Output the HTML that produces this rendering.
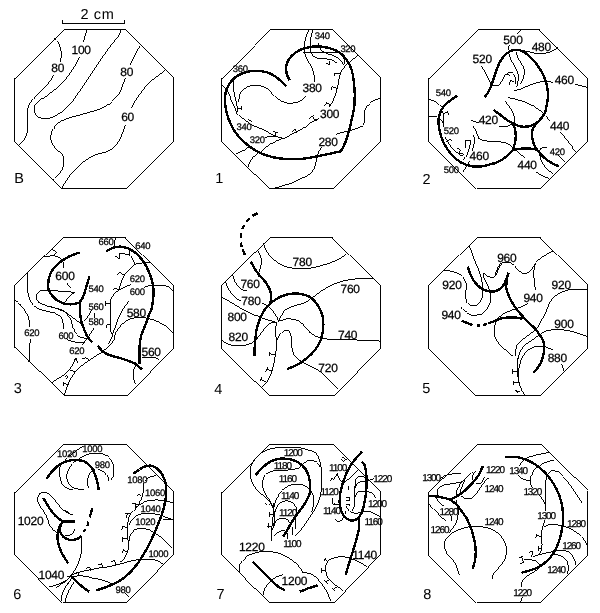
<!DOCTYPE html>
<html>
<head>
<meta charset="utf-8">
<title>Contour maps</title>
<style>
html,body{margin:0;padding:0;background:#fff;}
body{width:600px;height:613px;overflow:hidden;font-family:"Liberation Sans",sans-serif;}
svg{will-change:transform;display:block;position:absolute;left:0;top:0;}
.o{shape-rendering:crispEdges;fill:none;stroke:#000;stroke-width:0.99;}
.c{shape-rendering:crispEdges;fill:none;stroke:#000;stroke-width:0.99;}
.k{shape-rendering:crispEdges;fill:none;stroke:#000;stroke-width:2.4;stroke-linecap:butt;stroke-linejoin:bevel;}
text{font-family:"Liberation Sans",sans-serif;fill:#000;stroke:#000;stroke-width:0.25px;text-rendering:geometricPrecision;}
.L{font-size:14.5px;stroke-width:0;}
.m{font-size:12px;letter-spacing:-0.25px;}
.s{font-size:9.5px;letter-spacing:-0.3px;}
.t{font-size:10px;letter-spacing:-1.1px;}
</style>
</head>
<body>
<svg width="600" height="613" viewBox="0 0 600 613">
<rect x="0" y="0" width="600" height="613" fill="#fff"/>

<!-- ===== Panel B ===== -->
<g id="pB">
<path class="o" d="M62.5 20V23.5H124.5V20"/>
<text class="L" x="80.5" y="18.6" style="letter-spacing:0.6px">2 cm</text>
<polygon class="o" points="63.5,29.5 124.5,29.5 173.5,78 173.5,140.5 125.5,188.5 62,188.5 14.5,140.5 14.5,78"/>
<path class="c" d="M54.2 38.7C57.5 41 59.5 44 60 46.7C61 50 61.5 53 61.3 55C61.2 58 60.8 60 60.3 62"/>
<path class="c" d="M53.7 74.7C52.5 78 50.5 81 48.3 83.3C46 86 43.5 88.5 40.8 90.8C38 93.5 36 95.5 34.2 97.5C32.5 99.5 30 102.5 28.3 106.7C27.3 109 27.2 111 27.2 113.3V130C27.2 132.5 26.8 134.5 25.8 136.7C24.5 139.5 22.5 142 19.7 144.7"/>
<path class="c" d="M86.7 29.7C86.3 32 85.7 34 85 35.8C84.5 38 84 40 83.3 41.7"/>
<path class="c" d="M79.7 56.7C78 61 76 64.5 73.3 68.3C70.5 73 67 77.5 63.3 81.7C60 85.5 57 88.5 53.3 90.8C49.5 93.5 46 96 42.5 98.3C39.5 100.3 37 102 35.8 104.2C34.5 106 34 107.5 34.2 109.2C34.2 111.5 34.8 113.5 35.8 115C37 116.8 38.8 117.8 40.8 118C43.5 118.6 46 118.7 48.3 118.3C51.5 117.8 54 116.6 56.7 115C60 113.3 62.5 111.5 65 109.2C68 106.5 70.5 103.5 73.3 100.3C78 93.5 82.5 87 87 80.3C91.5 73.5 96 67 100.3 60.2C103.5 55.5 107 51 110 46.7C112.5 43.5 114.5 41 116.7 38.3C118 36.5 119.3 35 120 33.3C120.5 32 120.7 31 120.8 29.7"/>
<path class="c" d="M140 45.8C138 49 136.5 52 135 55C133.5 58.5 131.5 62 130 65"/>
<path class="c" d="M125 77.5C124 81 123 84.5 121.7 88.3C120.5 91.5 119 94 116.7 96.7C115 98.5 113 100 110.5 102.5C108 104.8 105 106.5 100 109.2C91 112 82 114.3 73.3 116.7C69 118 65 119.3 61.7 120.8C58.5 122.5 56 124.8 54.2 127.5C52.3 130 51 133 50.8 135.8C50.5 139 51.2 141.8 52.5 144.2C55 148.5 59.5 151.5 62.5 155C64 158 64.3 161 63.8 164.2C63.3 167 62.3 169.5 60.8 171.7C59 174.5 57 176.8 54.7 178.7L53.4 180"/>
<path class="c" d="M164.7 70.8C162 72.5 159.5 74.5 156.7 76.7C153.5 78.8 151 81 148.3 83.3C145.8 86 143.8 88.8 141.7 91.7C139.5 94.5 137.5 97 135.8 100C134 102.5 132.7 105 131.7 107.5"/>
<path class="c" d="M125.3 124.7C124.3 128.5 123.2 131.8 121.7 135C120.5 138.5 119 141.5 116.7 144.2C115 146.8 112.8 148.5 110 150C107 151.8 104 152.8 100 153.5C96.5 154.3 93 155.5 90 157.5C87 159 84.3 161 81.7 163.3C78 166.5 74.8 170 71.7 173.3C69.8 175.5 68.2 177.7 66.7 180C65 182.5 63.5 185.3 62 188"/>
<text class="m" x="71.5" y="53.7">100</text>
<text class="m" x="51.3" y="71.7">80</text>
<text class="m" x="120.3" y="75.9">80</text>
<text class="m" x="121.2" y="120.9">60</text>
<text class="L" x="14.3" y="183.3">B</text>
</g>

<!-- ===== Panel 1 ===== -->
<g id="p1">
<polygon class="o" points="270.5,29.5 331.5,29.5 380.5,78 380.5,140.5 333,188.5 269.5,188.5 221.5,140.5 221.5,78"/>
<!-- 380 contour -->
<path class="c" d="M308.5 29.5C307.5 32 306.8 34.5 306.2 36.7C305.2 40 304.5 42.5 304.4 44.8C304.1 47.5 304.1 49.5 304.4 51.8C304.8 54.5 305.8 56.8 306.8 58.8C308 61.5 309.5 63.5 310.8 65.8C312.2 68.5 313.2 70.5 313.8 72.8C314.3 76 314.4 79 314.3 81.6"/>
<path class="c" d="M306.7 95.8C305.3 97.5 303.7 98.8 301.7 100C299 101.8 296.5 102.7 293.3 103C290.5 103.5 287.5 103.3 285 102.5C282.5 101.8 280.3 100.7 278.3 99.2C275.8 97.2 273.8 95 271.7 92.5C269.5 90.3 267.3 88.5 265 87.5C262.3 86 259.5 85.3 256.7 85.2C253.5 85 250.8 85.6 248.3 86.5C245.8 87.6 243.8 89 242.2 90.8C240.5 92.8 239.5 95 239 97.5C238.6 99 238.6 100.3 238.7 101.5"/>
<!-- line b -->
<path class="c" d="M312.6 29.5C311.8 32 311.4 34.5 311.1 36.7C310.6 40 310.3 42.5 310.3 44.8C310.2 47.2 310.3 49.2 310.6 51.3C311.2 53.3 312 54.8 313.2 55.9C314.5 57.2 315.8 57.9 317.3 58.3C319.5 58.7 321.5 58.8 323.7 58.8C325.8 58.9 327.8 59.1 329.5 59.4C331.3 59.9 332.8 60.4 334.2 61.2C335.3 61.9 336.3 62.7 337.1 63.5"/>
<!-- line c from 340 -->
<path class="c" d="M318.4 42.5C318.7 44.2 319.1 45.8 319.6 47.2C320 48.5 320.5 49.7 321.3 50.7C323.2 51.8 325.2 52.8 327.2 53.6C329.5 54.4 332 55 334.2 55.9C336 56.8 337.5 57.7 338.8 58.8C340.2 59.9 341.3 61 342.3 62.3C342.9 63.3 343.3 64.3 343.5 65.3"/>
<!-- line d horizontal under arc -->
<path class="c" d="M302.7 52.5H336.5C338 52.8 339.2 53.4 340.3 54.2C342 55.5 343 57 343.8 58.8C344.5 60.3 344.8 61.8 344.9 63.5"/>
<!-- 320 hachured line -->
<path class="c" d="M357.5 55.8C355 57.5 352.5 59.5 350 61.7C347.5 63.8 345.2 66 343.3 68.3C341.8 70.3 340.7 72.5 340 75C339.2 77.8 338.8 80.5 338.3 83.3C337.6 86.8 336.8 90 335.8 93.3C334.9 96.3 333.8 99 332.5 101.7C331.5 103.5 330.4 105.2 329.2 106.7"/>
<!-- ticks -->
<path class="c" d="M325.8 63.3L330 64.7M329.7 60.8L329.2 64.7"/>
<path class="c" d="M334.2 76L335 73L340.8 73.7"/>
<path class="c" d="M331.3 89.8L332 86.8L334.8 87.2L336.5 89"/>
<path class="c" d="M324.2 105.6L326.3 102.5L328.5 103.8L330.2 105.8"/>
<path class="c" d="M309.2 118.4L313.8 115.4M312.7 116.8L315.2 120.2M314.5 120.6L319 118.2"/>
<path class="c" d="M291.5 131L295.3 128.8L296.8 132.5"/>
<path class="c" d="M272.8 131.5L277.7 132.8M275.8 132.2L275 135.8"/>
<path class="c" d="M248 119.3L252.2 121.7"/>
<path class="c" d="M236.8 108.8H241.5M241.5 105.6V109.6"/>
<!-- 300 contour -->
<path class="c" d="M318.7 118.5C316.5 119.5 314.3 120.5 312.4 121.6C309.5 123.3 307 125.3 304.5 127.2C301.5 129.3 298.5 131 295 132.7C291 134.8 286.5 136.7 282.5 138.5C278.5 140 274.3 141.7 270.5 143.8C267.8 145.5 265.3 147.8 263 149.8C261.5 150.8 260 151.8 258.5 152.8C257.2 153.8 256 154.7 254.8 155.8C253 157.3 251.3 159 250.3 161C249.3 163 248.5 165 248 167"/>
<!-- 340 contour -->
<path class="c" d="M221.8 84.4C223.5 86 225.2 87.6 226.8 89.4C228.3 92 229.5 94.8 230.5 97.5C231.8 100.5 233 103.3 234.3 106.3C235 108.5 235.8 110.5 236.8 112.5C238.3 114.5 240 116 241.8 117.5C243.7 119 245.5 120.5 247.4 121.9C249 123 250.5 124 251.8 125C255.5 126.5 259.3 128 263 129.5C265.5 130.8 267.7 132 269.8 133.3C272 134.5 274.3 135.7 276.5 136.7C278.5 137.5 280.5 138 282.5 138.5"/>
<!-- 360 line -->
<path class="c" d="M233.6 80.6C233.3 82.5 233.2 84.5 233.3 86.3C233.5 89 233.8 91.3 234.3 93.8C234.8 96.5 235.5 98.8 236.1 101.3C236.6 103.5 237 105.8 237.4 108.1C237.5 109.6 237.3 111 236.8 112.5"/>
<!-- 320 short -->
<path class="c" d="M264.5 137.8C266.3 137 268 136.5 269.8 136.3C272 136.2 274.2 136.4 276.5 136.7"/>
<path class="c" d="M236 153.8C238.5 152.8 241 151.8 243.5 150.5C245.5 149.5 247.3 148.2 248.8 146.8"/>
<!-- 280 contour -->
<path class="c" d="M380.5 98.6C378 98.7 375.5 99.3 373.3 100.8C371 102 369 103.3 367.5 105C365.8 107.5 364.8 110 364.4 113.3C364.3 116 364.6 118.5 364.7 120.8C364.3 123.3 363.3 125.2 361.5 126.4C359 127.8 356.3 128.8 353.6 129.5C350.5 130.3 347.3 131 344.1 131.9C341.3 132.6 338.7 133.4 336.2 134.3"/>
<path class="c" d="M321.1 146.5C320 149 318.8 151.5 318 154.1C317 157.3 316.4 160.5 315.6 163.6C314.8 167 313.8 170 311.6 172.3C309.3 174.8 306.2 176.4 302.9 177.8C300.3 179 297.6 180.3 295 181.8C291.5 183.3 288.5 184.3 285.5 184.5C281.5 185.8 277.5 187 273.5 188.3"/>
<!-- thick heart -->
<path class="k" d="M289.6 80.2C288.3 78 287.3 75.8 286.8 73.8C286.2 71.5 286 69.5 286.1 67.5C286.3 65.5 286.8 63.5 287.7 61.5C288.7 59.5 290 57.6 291.7 55.8C294 53.5 296.8 51.5 300 50C302.7 48.7 305.5 47.9 308.3 47.4C311 46.7 313.8 46.4 316.7 46.4C320.2 46.4 323.5 46.8 326.7 47.5C330.2 48.2 333.5 49.3 336.7 50.8C339.3 52.2 341.5 53.8 343.3 55.8C345.3 57.8 347 60 348.3 62.5C349.8 64.8 350.8 67.3 351.7 70C352.8 73.8 353.5 77.6 353.8 81.7C354.3 85.5 354.6 89.3 354.7 93.3C354.8 98 354.7 102.3 354.3 106.7C353.9 110 353.4 112.5 352.8 114.5C351.8 119.5 350.7 124 349.6 128.7C348.5 133.2 347.2 137.3 345.7 141.4C344.3 145 342.7 148.3 340.9 151.2C336.2 152.3 331.5 153.4 326.7 154.4C321.5 155.5 316.2 156.6 310.8 157.6C306.5 158.4 302 158.9 297.5 159.2C293.5 159.4 289.5 159.3 285.5 159C281.5 158.7 277.5 158.2 273.5 157.3C269.3 156.4 265.3 155.2 261.5 153.5C257.8 151.8 254.3 149.8 251 147.5C247.8 145.3 244.8 142.8 242 140C239.2 137.3 236.7 134.3 234.5 131C232.2 127.3 230.3 123.3 228.6 119C227.3 115.5 226.3 112 225.8 108.5C225.2 105.5 224.9 102.5 224.9 99.5C224.9 96.8 225.2 94.5 225.8 92C226.5 89.5 227.4 87.3 228.6 85.2C229.8 83 231.3 81 233 79.3C234.8 77.5 236.9 76 239.3 74.8C241.6 73.5 244.1 72.6 246.8 71.9C249.6 71.2 252.5 70.9 255.5 70.9C259 70.9 262.3 71.2 265.5 71.9C268.2 72.6 270.7 73.6 273 75C275.6 76.6 278.1 78.5 280.5 80.6C282.5 82.4 284.3 84.3 286.1 86.3"/>
<text class="m" x="302.5" y="91.9">380</text>
<text class="m" x="320" y="117.8">300</text>
<text class="m" x="318.4" y="145.5">280</text>
<text class="s" x="314.7" y="38.5">340</text>
<text class="s" x="340.4" y="51.9">320</text>
<text class="s" x="232.8" y="72">360</text>
<text class="s" x="236.6" y="129.5">340</text>
<text class="s" x="249.8" y="143.4">320</text>
<text class="L" x="215.3" y="183.4">1</text>
</g>

<!-- ===== Panel 2 ===== -->
<g id="p2">
<polygon class="o" points="477.5,29.5 539.5,29.5 587.5,78 587.5,140.5 540,188.5 476.5,188.5 428.5,140.5 428.5,78"/>
<!-- top edge to 500 -->
<path class="c" d="M520 29.5C519 31.3 518 32.8 516.7 34.2"/>
<path class="c" d="M509.2 45C509 46.8 508.6 48.5 508.3 50"/>
<!-- 480 -->
<path class="c" d="M520 50C523 50.5 525.5 51 528.3 51.7C531.5 52.6 535 53.4 538.3 53.7C541.8 53.8 545 53.4 548.3 52.5C550.5 51.8 552.5 51 554.2 50C555.7 49.1 557 48.1 558 47"/>
<!-- 460 -->
<path class="c" d="M587.5 87.5C585.5 86.8 583.5 86.3 581.7 85.8C579.3 85.2 577 84.6 575 84.2"/>
<path class="c" d="M552.5 82.3C550 81.8 547.8 81.6 545.3 81.6C543.8 81.6 542.3 81.6 540.7 81.8C538.3 82.2 536 82.8 533.7 83.6C531.3 84.5 529 85.5 526.7 86.5C524.3 87.5 522 88.5 519.7 89.4C517.8 90 515.8 90.4 513.8 90.6"/>
<!-- inside lines -->
<path class="c" d="M508.5 51C508.7 52.5 508.9 53.8 509.2 55C509.8 57 510.6 59 511.5 60.8C512.6 62.8 513.8 64.8 515 66.7C516 68.6 517 70.5 517.9 72.5C518.4 74.4 518.6 76.3 518.5 78.3C518.2 81 517.6 83.8 516.8 86.5"/>
<path class="c" d="M516.7 51.7C516.6 52.8 516.7 54 516.8 55C517.6 57 518.6 59 519.7 60.8C520.9 62.8 522.2 64.8 523.2 66.7C524 68.6 524.4 70.5 524.3 72.5C524.2 74.5 523.9 76.4 523.2 78.3C522.4 80.3 521.4 82.3 520.3 84.2"/>
<path class="c" d="M481.8 65.5C483.2 68.5 484.8 71.7 486.4 74.8C488 78 489.5 81 491.1 84.2"/>
<path class="c" d="M492.3 85.9C494 86 495.8 85.8 497.5 85.3C499.1 84.5 500.5 83.3 501.6 81.8C502.8 80 503.6 78 504.5 76C505.4 74.8 506.6 73.8 508 73.1C509.2 72.6 510.4 72.4 511.5 72.5C512.8 73.2 513.7 74.2 514.4 75.4C515.1 76.7 515.5 78 515.6 79.5C515.6 81 515.4 82.6 515 84.2"/>
<path class="c" d="M509.8 80.1L514.4 82.4M510.1 80.1L509.8 85.3"/>
<path class="c" d="M506.5 74.6L509.5 75.5"/>
<!-- lower right lines -->
<path class="c" d="M508 97.6C510.3 98.3 512.7 98.8 515 99.3C518.2 100 521.3 100.8 524.3 101.7C527.2 102.8 530 104.2 532.5 105.8C535 107.2 537.3 108.7 539.5 110.4C541.5 112 543.5 113.8 545.3 115.7C547 117.7 548.8 119.5 550.7 121.4"/>
<path class="c" d="M505.1 101.1C506.5 102.8 507.9 104.5 509.2 106.3C510.5 108.2 511.7 110.2 512.7 112.2C513.5 114 514.1 116 514.4 118C514.6 120.5 514.8 122.5 514.8 124.5"/>
<path class="c" d="M560.2 131.7C562.3 134.3 564.4 137 566.5 139.6C568.6 142.2 570.7 144.9 572.8 147.5C573.9 148.9 575 150.2 576 151.5"/>
<!-- 420 contour -->
<path class="c" d="M470.8 120.2C473.5 121.2 476.3 122 479 122.8"/>
<path class="c" d="M498.5 126.8C501 126.9 503.5 126.8 506 126.5C508 126 510 125.2 512 124.3"/>
<path class="c" d="M473 125.8C474.3 128 475.6 130.2 476.8 132.5C477.5 134.5 478.1 136.6 479 138.5C480.8 139.6 482.8 140.3 485 140.8C488.5 141.2 492 141.4 495.5 141.5C499 141.8 502.5 142.2 506 143C508.2 144 510.2 145.3 512 146.8C512.8 147.7 513.3 148.5 513.5 149.1"/>
<!-- left edge lines -->
<path class="c" d="M428.5 99.5C430.5 99.8 432.3 100.3 434 101C436 102 437.8 103.3 439.3 104.8C440.4 105.8 441.4 106.8 442.3 107.8"/>
<path class="c" d="M428.5 116.8H435.5C436.6 117.3 437.6 118 438.5 119"/>
<!-- hachured inner line -->
<path class="c" d="M441.5 108.5C442.2 110 442.7 111.5 443 113C443.6 115 444 117 444 119C443.6 120 443.2 121 443 122C443.2 123.5 443.4 125 443.5 126.5M440 119L443 122.5"/>
<path class="c" d="M445.5 136.5C446.2 139.2 448.8 143.7 450.5 146C452.3 148.6 454.3 150.8 456.5 152.8C458.3 154.2 460.3 155.2 462.5 155.8"/>
<path class="c" d="M444 113.5L447.5 111.5L449.5 114.5"/>
<path class="c" d="M446 142L450.5 139L451.5 141"/>
<path class="c" d="M456.5 148.3L460.3 149.8L459.5 153.5L464 154.3"/>
<path class="c" d="M470.8 140.8H464.8M465.5 140.8V147.5"/>
<path class="c" d="M470.8 140.8C470.5 143 470 145.3 469.3 147.5C468.7 149.5 467.9 151.5 467 153.5C466 155.8 464.8 158 463.3 160.3"/>
<path class="c" d="M473.8 134.8C474.1 137.5 474.3 140.3 474.2 143C473.8 145.5 473.2 148 472.3 150.5"/>
<path class="c" d="M469.3 161C468.4 163 467.4 165 466.3 167C465.4 168.5 464.4 170 463.3 171.5"/>
<!-- 440 upper -->
<!-- 420 small label lines -->
<path class="c" d="M546.7 147.5C544.6 147.5 542.5 147.8 540.4 148.3C539.8 150.2 539.5 152 539.6 153.8C539.9 156 540.4 158.2 541.2 160.2C542.5 163 544 165.7 545.9 168.1C548 170.3 550.4 172.1 553 173.6"/>
<path class="c" d="M557.8 154.6C560.2 157 562.5 159.3 564.9 161.7"/>
<!-- lower 440 -->
<path class="c" d="M515.8 149.9C518.7 152.5 521.6 155.2 524.5 157.8"/>
<path class="c" d="M536.4 172C538.5 173.5 540.6 174.8 542.8 176C544.9 177 547 177.8 549.1 178.4"/>
<!-- thick lines -->
<path class="k" d="M484.7 97C486.2 95.2 487.6 93.3 488.8 91.2C489.9 89 490.9 86.6 491.7 84.2C492.9 80.7 494.1 77.2 495.2 73.7C496.5 70.2 497.8 66.6 499.3 63.2C500.5 60.8 501.8 58.7 503.3 56.8C505.3 54.5 507.8 52.5 510.5 51C512.3 50.4 514 50.1 515.8 50C517.2 50 518.6 50.1 520 50.3C523 51.3 525.8 52.9 528.3 55C531.3 57.8 534.1 60.9 536.7 64.2C539.2 67.6 541.4 71.2 543.3 75C544.8 78.2 545.9 81.5 546.7 85C547.5 88.3 547.9 91.6 548 95C548 98.4 547.6 101.8 546.7 105C546.3 107.4 545.8 109.7 545.2 112C544.3 114.1 543.1 116 541.7 117.8C540 120.1 538 122.1 535.8 123.7C534 124.8 532 125.5 530 126C527.9 126.6 525.8 126.8 523.6 126.8C521.4 126.6 519.3 126.1 517.2 125.4C515.6 124.8 514 124 512.5 123.1C510 122 507.7 120.6 505.5 119C503.5 117.5 501.6 116 499.7 114.3C497.5 112.8 495.4 111.3 493.4 109.8"/>
<path class="k" d="M512.5 123.1C513.5 124.8 514.3 126.5 514.8 128.3C515.5 131 515.8 133.8 515.8 136.5C515.7 138.9 515.4 141.2 514.8 143.5C514.3 145.9 513.5 148.3 512.5 150.5C510.8 152.6 508.8 154.5 506.7 156.3C504.9 157.9 502.9 159.2 500.8 160.4C498.9 161.6 497 162.5 495 163.3C494.2 163.4 493.3 163.5 492.5 163.5C489 164.8 485.5 165.8 482 166.3C478.5 166.7 475 166.7 471.5 166.3C467.8 165.5 464.3 164.2 461 162.5C457.7 160.5 454.7 158 452 155C449 151.8 446.5 148.3 444.5 144.5C442.5 140.7 441 136.7 440 132.5C439.1 129 438.6 125.5 438.5 122C438.5 118.8 439 115.8 440 113C440.9 110.5 442.2 108.3 443.8 106.3C445.7 104 448 102 450.5 100.3C452.6 98.5 454.9 97 457.3 95.8"/>
<path class="k" d="M512.5 150.5C514.4 149.9 516.3 149.4 518.3 149.1C520.8 148.7 523.4 148.4 525.9 148.4C528 148.4 530.2 148.5 532.3 148.8C533.9 149.1 535.5 149.4 537 149.9C536.3 149 535.8 148 535.3 147C534.3 145.1 533.5 143.2 532.9 141.2C532.4 138.9 532.1 136.6 532.1 134.2C532.1 132.2 532.4 130.2 532.9 128.3C533.7 126.8 534.7 125.5 535.8 124.3"/>
<path class="k" d="M537 149.9C538.5 151.7 540 153.5 541.7 155.2C543.5 157.1 545.4 158.8 547.5 160.4C549.4 161.7 551.3 162.8 553.3 163.9C555.2 164.8 557.2 165.6 559.2 166.3"/>
<text class="m" x="503.3" y="43.7">500</text>
<text class="m" x="531.7" y="50.8">480</text>
<text class="m" x="554.7" y="84">460</text>
<text class="m" x="472.6" y="62.6">520</text>
<text class="m" x="478.7" y="124.4">420</text>
<text class="m" x="469.6" y="159.6">460</text>
<text class="m" x="550" y="130.2">440</text>
<text class="m" x="517.5" y="169">440</text>
<text class="s" x="435.8" y="96.4">540</text>
<text class="s" x="443.8" y="134">520</text>
<text class="s" x="443.7" y="172.8">500</text>
<text class="s" x="549.8" y="154.7">420</text>
<text class="L" x="422.4" y="183.5">2</text>
</g>

<!-- ===== Panel 3 ===== -->
<g id="p3">
<polygon class="o" points="62.5,237.5 125.5,237.5 173.5,285.5 173.5,347.5 126.5,395.5 63.5,395.5 14.5,347.5 14.5,285.5"/>
<!-- top-left tick + line to 600 -->
<path class="c" d="M43.8 256.7C47 256.2 50.3 255.8 53.5 255.8C56 256.2 58.3 256.8 60.3 257.8C61.8 259 62.8 260.5 63.3 262.3C63.6 264 63.7 265.8 63.7 267.5"/>
<path class="c" d="M51.7 248.8L56.5 252.2L53.5 255.8"/>
<path class="c" d="M67 282.5C67.3 284 67.8 285.3 68.5 286.3C69.2 287.1 70 287.6 70.8 287.8"/>
<!-- tongue -->
<path class="c" d="M64.8 302C66.5 300 68.2 298 70 296C71.5 294.7 73 293.5 74.5 292.3C70.5 292 66.5 291.8 62.5 291.5C58 291 53.5 290.5 49 290C46 290 43.3 290.2 40.8 290.8C39.2 291.5 38 292.5 37 293.8C36.3 295.3 36.1 296.8 36.3 298.3C36.8 300 37.8 301.5 39.3 302.8C41.3 304 43.6 305 46 305.8C49 306.7 52 307.3 55 308C57.5 308.8 60 309.8 62.5 311C65 312.3 67.5 313.8 70 315.5C72 317 74 318.5 76 320C78 321.3 79.5 322.5 81.2 324"/>
<!-- outer line -->
<path class="c" d="M27.7 272.8C27.3 276 27.2 279.3 27.3 282.5C27.4 286 27.6 289.5 28 293C28.6 296.3 29.6 299.3 31 302C32.6 304.5 34.6 306.5 37 308C39.8 309.5 42.8 310.4 46 311C49 311.7 52 312.4 55 313.3C57.2 314.2 59.2 315.4 61 317C62 318.3 62.5 319.5 62.7 320.5C63.3 323.3 63.7 326.2 63.9 329"/>
<path class="c" d="M65.8 338.3C67.6 339.8 69.7 340.8 72 341.4C74 342 76.1 342.4 78.2 342.5C80 342.5 81.8 342.4 83.6 342.2"/>
<!-- line 3 -->
<path class="c" d="M46 305.8C50.5 306.7 56 308.3 61.1 309.6C63.5 310.6 65.5 311.9 67.3 313.5C69 315.5 70.3 317.8 71.2 320.5C72 323 72.7 325.6 73.5 328.2C74.3 330.5 75.3 332.6 76.6 334.4C77.9 335.8 79.4 336.8 81.2 337.5C83.2 338 85.3 338.3 87.4 338.3"/>
<!-- leftmost line -->
<path class="c" d="M14.5 300.5C16.7 301.8 18.7 303.3 20.5 305C22.4 306.8 24 309 25.5 311.5C26.8 313.3 27.8 315.3 28.6 317.4C29.3 320.5 29.7 323.6 29.8 326.7"/>
<path class="c" d="M30.1 338.5C30.1 342.8 29.8 347.2 29.4 351.5C29.2 355 29 358.5 28.9 362"/>
<!-- 660 / top short -->
<path class="c" d="M115.9 237.4C115.2 239 114.6 240.5 114.3 241.9C114.2 243.7 114.2 245.5 114.3 247.4"/>
<!-- 640 & hachured -->
<path class="c" d="M149.9 262.5H146C144 262.6 142.2 262.8 140.4 263.2C138.8 263.5 137.2 263.8 135.7 264C134.7 262.2 133.6 260.3 132.5 258.5C131.5 257 130.4 255.7 129.3 254.5C129.1 253 129 251.4 129 249.8"/>
<path class="c" d="M129.3 254.3C126 254 122.5 253.8 119 253.7V258.5L115.2 256.2"/>
<path class="c" d="M135.7 264C132.8 266 130.2 268.3 127.7 270.8C126.3 272.4 125 274.1 123.8 275.9C122.6 278.5 121.5 281.1 120.6 283.8C120 285.8 119.4 287.8 119 289.8"/>
<path class="c" d="M117.5 275.1L119.8 272L123.8 275.1"/>
<path class="c" d="M112.7 290.2L115.1 287.8L119 290.2"/>
<!-- 620 line -->
<path class="c" d="M130.9 284.6C126.8 286.2 122.8 287.9 119 289.8C117 291.3 115.2 293 113.5 294.9C112.2 296.4 111.3 298 110.6 299.7V324C110.7 327.2 110.9 330.4 111.1 333.5"/>
<path class="c" d="M105.5 301.3V305.7M105.5 303.5H110.6"/>
<path class="c" d="M110.6 324.5H106.5V328"/>
<!-- 600 right -->
<path class="c" d="M173.3 291C172 289.5 170.5 288.2 168.9 287C166.4 286 163.8 285.5 161 285.4H153.1C151 285.5 148.8 285.8 146.7 286.2C145.8 286.6 145 287.1 144.4 287.8"/>
<path class="c" d="M128.5 300.5C126.5 303.3 124.7 306.2 123 309.2C121.2 312.3 119.6 315.5 118.2 318.7C117 321.8 116 324.8 115.1 328C114.2 330 113.4 331.8 112.7 333.5C112.2 335.3 111.7 337.2 111.1 339C110.2 340.8 109.2 342.3 108 343.8"/>
<!-- 580 arc -->
<path class="c" d="M101 352.7C103.8 350.6 106.5 348.4 109 346C111 343.9 112.8 341.7 114.3 339.3C114.6 337.4 114.9 335.5 115.1 333.5C117.1 330.5 119.2 327.6 121.4 324.8C123.7 322.5 126.3 320.7 129.3 319.3C132.3 318.2 135.5 317.5 138.8 317.3C142 317.3 145.2 317.7 148.3 318.5C151.6 319.3 154.8 320.3 157.8 321.6C161.2 323.2 164.4 325 167.3 327.2C169.4 328.8 171.3 330.7 172.9 332.7"/>
<!-- 560 -->
<path class="c" d="M142 358C145.2 357.4 148.3 357.1 151.5 357.2C154.3 357.6 157 358.4 159.4 359.6"/>
<path class="c" d="M135.7 365.2C134.5 367.2 133.7 369.3 133.3 371.5C133 373.6 133 375.7 133.3 377.8C133.8 380 134.6 382.2 135.7 384.2"/>
<!-- lines from 540/560/580 small -->
<path class="c" d="M91.3 310.4C90 312.8 88.7 315.1 87.4 317.4C86.4 318.8 85.4 320.1 84.3 321.3"/>
<path class="c" d="M94.5 313.3V317.6"/>
<path class="c" d="M93.6 327.5C92.4 329.8 91.1 332.1 89.8 334.4C88.5 336.3 87.2 338.1 85.9 339.9C84.9 341.5 83.8 343 82.8 344.5"/>
<!-- bottom hachured lines -->
<path class="c" d="M51.8 382.5C54 381.3 56 380 58 378.6C60.2 377.4 62.3 376.2 64.2 374.7C66.2 373 68 371.2 69.6 369.3C71 367.3 72.4 365.3 73.5 363.1C74.4 361.3 75.2 359.5 75.8 357.7"/>
<path class="c" d="M74 360.2L75.8 357.7L78 363.2"/>
<path class="c" d="M64.5 395C65.2 392.4 66 389.8 67 387.3C68 384.6 69.1 381.9 70.3 379.3C71.9 376.5 73.7 373.8 75.7 371.3C78.2 368.7 80.8 366.2 83.7 364C86.3 362.1 89 360.4 91.7 358.7C94.8 356.7 97.9 354.7 101 352.7"/>
<path class="c" d="M82 359.2L85.9 357.7L89 360"/>
<path class="c" d="M70.4 370.1L75 371.6"/>
<path class="c" d="M65 376.3L67.3 375.5L66.5 378.6"/>
<path class="c" d="M62.7 382.5L68.1 384.8M63.5 382.8V385.8"/>
<!-- thick -->
<path class="k" d="M79.8 252.5C77.5 253.2 75.2 254 73 254.8C70.4 255.8 67.9 257 65.5 258.5C62.8 260 60.3 261.8 58 263.8C55.7 265.8 53.7 268 52 270.5C50.4 273.3 49.3 276.3 48.7 279.5C48.2 282.5 48.1 285.5 48.3 288.5C48.9 290.7 49.9 292.7 51.3 294.5C52.8 296.5 54.5 298.3 56.5 299.8C58.8 301.5 61.3 302.7 64 303.5C66.5 304.1 69 304.4 71.5 304.3C74.1 304.1 76.6 303.6 79 302.8C80.6 301.2 81.9 299.5 82.8 297.5C84 294.6 85 291.6 85.8 288.5C87 284.5 88.2 280.5 89.5 276.5"/>
<path class="k" d="M79.8 302.8V311C80.1 314.5 80.6 318 81.3 321.5C82 323.8 82.7 325.8 83.6 328C84.7 331 86 334 87.4 336.7C88.9 338.7 90.5 340.5 92.1 342"/>
<path class="k" d="M97.7 345.8C99.2 347.7 100.8 349.5 102.4 351.2C104.4 352.7 106.5 354 108.7 354.9C112.4 356 116.1 357 119.8 358C123 359 126.2 360 129.3 361.2C131.5 362 133.6 362.9 135.7 363.9C137.9 365.7 140 367.6 142 369.6"/>
<path class="k" d="M106.4 251.4C108.2 250.2 110 249.1 111.9 248.2C114.4 247.1 117.1 246.6 119.8 246.6C122.5 246.7 125.2 247.3 127.7 248.2C130.5 249.4 133.2 251 135.7 253C138.6 255.6 141.3 258.5 143.6 261.7C146.1 265.6 148.2 269.8 149.9 274.3C151.3 277.9 152.3 281.6 153.1 285.4C153.6 289.1 153.7 292.8 153.4 296.5C153.1 300.8 152.4 305 151.5 309.2C150.8 311 150 312.7 149.1 314.5C147.9 318.2 146.6 321.9 145.2 325.6C143.8 328.8 142.4 332 141.2 335.1C140.4 338.8 139.9 342.5 139.6 346.2V364.4"/>
<text class="m" x="55.3" y="279.7">600</text>
<text class="m" x="126.7" y="317">580</text>
<text class="m" x="141.5" y="356">560</text>
<text class="s" x="98.5" y="245.2">660</text>
<text class="s" x="135.3" y="249">640</text>
<text class="s" x="129.8" y="282.3">620</text>
<text class="s" x="129.8" y="295">600</text>
<text class="s" x="88.6" y="292">540</text>
<text class="s" x="88.6" y="310">560</text>
<text class="s" x="88.6" y="324.9">580</text>
<text class="s" x="24.3" y="335.8">620</text>
<text class="s" x="58.4" y="339.2">600</text>
<text class="s" x="69.2" y="353.9">620</text>
<text class="L" x="13.8" y="393.3">3</text>
</g>

<!-- ===== Panel 4 ===== -->
<g id="p4">
<polygon class="o" points="269.5,237.5 332.5,237.5 380.5,285.5 380.5,347.5 333.5,395.5 269.5,395.5 221.5,347.5 221.5,285.5"/>
<!-- 780 top -->
<path class="c" d="M263.3 243.3C264 246.2 265.2 249 266.7 251.7C268.5 254.5 270.7 257 273.3 259.2C275.8 261.5 278.6 263.4 281.7 265C284.9 266.5 288.2 267.5 291.7 268C295.5 268.5 299.4 268.7 303.3 268.7C307.5 268.5 311.6 268 315.6 267.2C319.4 266.3 323 265.2 326.7 264C330.5 262.8 334.2 261.4 337.7 259.8C340.3 258.5 342.7 257 344.9 255.3C346 254.4 346.8 253.5 347.6 252.5"/>
<!-- line short inside NW -->
<path class="c" d="M257.5 249.7C258.8 252 259.9 254.3 260.8 256.7C261.4 259.2 261.6 261.7 261.3 264.2C260.8 266.8 260.1 269.3 259.2 271.7C258.7 273.4 258.3 275 258 276.7"/>
<path class="c" d="M232.5 274.2C233 276.8 233.8 279.3 235 281.7C236.3 284.2 238 286.4 240 288.3C242 289.7 244.2 290.5 246.7 290.8"/>
<path class="c" d="M225.8 281.7C226.4 284.6 227.4 287.4 229 290C230.4 292.3 232.1 294.4 234 296.3C236.2 298.2 238.5 299.9 241 301.3"/>
<!-- 780 left contour -->
<path class="c" d="M221.8 297.2C225.5 299.2 229.3 301.3 233 303.5C236 305.3 239 307.1 241.9 308.9C246 311.2 250.2 313.3 254.5 315.1C258.6 316.8 262.8 318.3 267.1 319.6C270 320.6 273 321.5 276 322.3"/>
<path class="c" d="M261.7 303.5C263.6 303.9 265.4 304.5 267.1 305.3C269.1 306.8 270.9 308.6 272.5 310.6C274.1 312.6 275.6 314.7 276.9 316.9C277.7 318.5 278.3 320.2 278.7 322"/>
<!-- 820 -->
<path class="c" d="M221.8 340.3C223.6 341.7 225.5 342.9 227.6 343.9C230.4 345 233.4 345.6 236.5 345.7C240.2 345.9 243.8 345.6 247.3 344.8C250 344 252.4 342.8 254.5 341.2C256.5 339.3 258.3 337.2 259.9 334.9C261.6 332.4 263.4 330 265.3 327.7C266.9 325.9 268.7 324.4 270.6 323.2C272.6 322.5 274.7 322.2 276.9 322.3"/>
<!-- 760 from right to center -->
<path class="c" d="M373.4 278.3C370.5 278.2 367.6 278.2 364.7 278.3C361 278.4 357.3 278.7 353.6 279.1C349.3 279.6 345 280.4 340.9 281.5C337 282.8 333.3 284.4 329.8 286.2C326.5 287.9 323.4 289.7 320.3 291.7C318.2 293.3 316.1 294.9 314 296.5C311.6 298.3 309.1 300 306.6 301.7C304.3 302.8 301.9 303.7 299.4 304.4C296.4 305.2 293.4 306.1 290.4 307.1C287.8 308.2 285.4 309.7 283.2 311.5C281.8 313.7 280.6 316.1 279.6 318.7C279.2 319.8 278.9 320.9 278.7 322"/>
<!-- 740 -->
<path class="c" d="M380.8 341.3C378.3 340.9 375.8 340.5 373.3 340.3C367.8 340.1 362.2 340 356.7 340C351.1 339.9 345.6 339.8 340 339.7C334.4 339.5 328.9 339.2 323.3 338.7C321 338.3 318.8 337.6 316.7 336.7C314.3 335.6 312 334.2 310 332.5C308.2 330.7 306.6 328.7 305 326.7C303.5 324.8 301.8 323.1 300 321.7C298.4 320.7 296.8 320 295 319.7C291.8 319 288.9 318.5 286.8 318.7C284.3 319.2 281.9 320.1 279.6 321.4"/>
<!-- hachured -->
<path class="c" d="M276.9 323.2C275.9 325.8 275.3 328.5 275.1 331.3C275.3 334.4 275.9 337.4 276.9 340.3C276.9 343.9 276.6 347.5 276 351.1C275.5 354.7 274.9 358.3 274.2 361.8C273.5 365.5 272.6 369.1 271.5 372.6C270.3 375.8 268.9 378.8 267.1 381.6C265.6 383.6 263.9 385.4 262 387"/>
<path class="c" d="M274.9 354.9L269.6 353.8M269.6 352.3V356.2"/>
<path class="c" d="M271.7 370.8L266.9 369.2M267.7 367.4L265.9 371.5"/>
<path class="c" d="M265.9 381.9L261.1 379.3M262.4 376.9L260 380.5"/>
<!-- loop / 720 -->
<path class="c" d="M276.9 340.3C277.6 338.4 278.5 336.6 279.6 334.9C280.9 333.3 282.4 331.9 284.1 330.9C285.6 330.5 287.1 330.5 288.6 330.9C290 332.5 290.9 334.5 291.3 336.7C291.7 339.7 291.9 342.7 291.8 345.7C292 348.8 292.8 351.8 294 354.6C295.5 356.7 297.3 358.5 299.4 360C301.7 361.6 304.1 363 306.7 364.2C309.5 365.5 312.3 366.9 315 368.3C317.6 369.8 320.1 371.5 322.5 373.3C325.1 375.7 327.6 378.2 330 380.8C332.8 383.6 335.5 386.4 338.3 389.2"/>
<!-- thick -->
<path class="k" d="M250.8 261.7C252.2 264.2 253.6 266.7 255 269.2C256.6 271.5 258.2 273.7 260 275.8C262 278 263.9 280.2 265.8 282.5C267.5 284.9 268.9 287.4 270 290C270.8 292.4 271.2 294.9 271.3 297.5C271 299.8 270.5 301.8 270.2 303"/>
<path class="k" d="M254.5 356.4C254.5 352.2 254.6 348 254.9 343.9C255.2 339.6 255.7 335.4 256.3 331.3C257.2 327 258.4 322.8 259.9 318.7C261.4 315.3 263.2 312 265.3 308.9C267.4 306.2 269.8 303.8 272.5 301.7C275.2 299.6 278.2 297.8 281.4 296.3C284.8 294.9 288.4 294 292.2 293.6C295.8 293.3 299.4 293.6 303 294.5C305.2 294.9 307.3 295.6 309.2 296.5C311.3 297.8 313.2 299.4 314.8 301.2C316.6 303.4 318.2 305.8 319.5 308.4C320.9 310.9 321.9 313.5 322.7 316.3C323.2 319.5 323.4 322.5 323.3 325.5C323.2 330.5 322.4 335.3 320.8 340C319.4 343.6 317.5 346.9 315 350C312.6 353.1 309.8 355.8 306.7 358.3C304.1 360.5 301.3 362.4 298.3 364.2C295.5 365.8 292.4 367.2 289.5 368.2C288.6 368.5 287.7 368.8 286.8 369"/>
<path class="k" d="M257.5 213.3L252.5 215.8" stroke-linecap="butt"/>
<path class="k" d="M249.7 218.3L246.7 221.7" stroke-linecap="butt"/>
<path class="k" d="M244.2 225.3L242.2 229.2" stroke-linecap="butt"/>
<path class="k" d="M241.2 233.3L240.8 238.3" stroke-linecap="butt"/>
<path class="k" d="M240.8 242.5L241.7 246.7" stroke-linecap="butt"/>
<path class="k" d="M242.5 249.2L245 255" stroke-linecap="butt"/>
<text class="m" x="292.6" y="265.8">780</text>
<text class="m" x="340.5" y="292.5">760</text>
<text class="m" x="240.4" y="288">760</text>
<text class="m" x="241.3" y="304.7">780</text>
<text class="m" x="227.5" y="320.6">800</text>
<text class="m" x="228.6" y="341.3">820</text>
<text class="m" x="338" y="338.8">740</text>
<text class="m" x="318.3" y="372">720</text>
<text class="L" x="214.2" y="394.2">4</text>
</g>

<!-- ===== Panel 5 ===== -->
<g id="p5">
<polygon class="o" points="476.5,237.5 540.5,237.5 587.5,285 587.5,347.5 540,395.5 476,395.5 428.5,347.5 428.5,285.5"/>
<!-- line from NW edge -->
<path class="c" d="M468.8 244.7C470.2 248.3 471.6 251.9 473 255.5C474.5 259 476 262.5 477.5 266C478.9 270 480.2 274 481.3 278C482 281.2 482.5 284.5 482.8 287.8"/>
<!-- 920 left -->
<path class="c" d="M443.8 270.2C446.5 270.4 449.3 270.8 452 271.3C454.6 272 457.1 273 459.5 274.3C461.5 275.8 463.3 277.5 464.8 279.5C465.7 281.4 466.2 283.4 466.3 285.5C466.3 288 466 290.5 465.5 293C465.4 295.6 465.7 298.1 466.3 300.5C467.2 302.3 468.5 303.8 470 305C471.5 305.7 473 306 474.5 305.8C476.5 304.9 478.3 303.6 479.8 302C481.1 300.2 482.1 298.2 482.8 296C483.1 293.3 483.1 290.5 482.8 287.8"/>
<!-- 940 left -->
<path class="c" d="M461 306.5C462.3 308.5 463.8 310.2 465.5 311.8C467.8 313.6 470.3 314.8 473 315.5C475.5 315.5 478 315 480.5 314C482.8 312.9 484.8 311.4 486.5 309.5C488.2 307.2 489.5 304.7 490.3 302C491 299 491.2 296 491 293C490.3 290.4 489.3 287.9 488 285.5C486.5 282.5 484.9 279.5 483.5 276.5C483.3 275.3 483.2 274 483.2 272.8C484.7 274.2 486.3 275.4 488 276.5C489.5 277.1 491 277.4 492.5 277.3C494 276.6 495.3 275.6 496.3 274.3C497.5 271.9 498.5 269.4 499.3 266.8C500 265.5 501 264.5 502.3 263.8"/>
<!-- 960 -->
<path class="c" d="M495 275C495.7 272.7 496.5 270.5 497.5 268.3C498.4 266.5 499.5 264.8 500.8 263.3C502.7 262.4 504.7 262 506.7 262C508.5 262.1 510.2 262.5 511.7 263.3C513.5 264.8 515.2 266.5 516.7 268.3C518.2 270 519.9 271.6 521.7 273C523.3 273.6 525 273.7 526.7 273.3C528.6 272.3 530.3 270.9 531.7 269.2C533.2 267 534.6 264.8 535.8 262.5C537.6 260.6 539.6 259 541.7 257.5C543.8 256 546 254.6 548.3 253.3C550 252.5 551.7 251.7 553.3 250.8"/>
<path class="c" d="M535 264.2C534.2 267.2 533.8 270.2 533.7 273.3C533.8 276.7 534.2 280 534.7 283.3C535 285.5 535.2 287.8 535.3 290"/>
<!-- 920 right -->
<path class="c" d="M587.2 289.2H573.3C570.5 289.5 567.7 290 565 290.8C562 291.8 559.2 293.2 556.7 295C554.4 296.6 552.4 298.6 550.8 300.8C549.2 303.8 547.8 306.9 546.7 310C545.5 313.5 544 317 542.5 318.3C541 321.5 539.3 324.5 537.5 327.5C535.2 330 532.7 332.2 530 334.2C527.2 336.2 524.4 338.1 521.7 340C519.7 341.7 518 343.6 516.7 345.8C515.8 349 515.3 352.4 515.3 355.8"/>
<!-- 940 center line -->
<path class="c" d="M528.3 303.3C525.6 304.8 522.8 306.2 520 307.5C516.7 308.7 513.3 309.8 510 310.8C507.1 312 504.3 313.4 501.7 315C500 316.4 498.3 317.9 496.7 319.5"/>
<!-- thin loop -->
<path class="c" d="M496.7 320.8C495.5 323.2 494.7 325.7 494.2 328.3C494 331.2 494.3 334 495 336.7C496 339.4 497.4 342 499.2 344.2C501.5 346.6 504 348.8 506.7 350.8C508.9 352.8 511.1 354.8 513.3 356.7"/>
<!-- 900 -->
<path class="c" d="M587.2 336.3C584.3 335.2 581.3 334.2 578.3 333.3C574.5 332.1 570.6 331.1 566.7 330.3C563.4 329.8 560 329.6 556.7 329.7C553.8 329.6 551 329.8 548.3 330.3C546 331 543.8 332 541.7 333.3C538.8 335.1 536 337.1 533.3 339.2C530.4 341 527.7 342.9 525 345C523 347 521.3 349.2 520 351.7C519 354.1 518.5 356.6 518.3 359.2"/>
<!-- 880 -->
<path class="c" d="M552.5 350C550.1 348.6 547.6 347.5 545 346.7C542.2 346.1 539.5 346 536.7 346.3C533.7 347 530.9 348.3 528.3 350C526 351.9 524 354.1 522.5 356.7C521.2 359.3 520.3 362.1 519.7 365C519 367.7 518.5 370.5 518.3 373.3C518.2 376.7 518.5 380 519.2 383.3C519.8 385.6 520.6 387.8 521.7 390C522.6 391.8 523.7 393.5 525 395"/>
<path class="c" d="M561.7 364.2C562.6 366.3 563.3 368.5 563.7 370.8"/>
<!-- hachured vertical -->
<path class="c" d="M517.5 357.5V370C517.6 373.4 517.9 376.7 518.3 380C518.8 382.9 519.7 385.7 520.8 388.3"/>
<path class="c" d="M512.5 369V373.5M512.5 371.2H517.5"/>
<path class="c" d="M513.3 380.6V385.2M513.3 382.8H518.3"/>
<path class="c" d="M514.8 390.8L520 391.5M516.3 389.7L517.5 393.2"/>
<!-- thick -->
<path class="k" d="M467.8 266.5C468.4 268.9 469.1 271.2 470 273.5C471.2 276.4 472.7 279.2 474.5 281.8C476.2 284.1 478.2 286.1 480.5 287.8C482.8 289.3 485.3 290.5 488 291.2C490.5 291.7 493 291.7 495.5 291.2C497.7 290.5 499.7 289.3 501.5 287.8C503 286 504.3 284 505.3 281.8C506.5 278.9 507.5 275.9 508.5 272.8"/>
<path class="k" d="M508.5 272.8C507.7 275.2 507.1 277.6 506.7 280C506.3 282.8 506.2 285.5 506.3 288.3C506.9 291.2 507.9 294 509.2 296.7C510.7 299.8 512.4 302.9 514.2 305.8C516 308.4 518 310.9 520 313.3C522.2 315.8 524.4 318.3 526.7 320.8C529.3 323.3 532 325.6 534.5 328C536.2 330 537.8 332 539.2 334.2C540.8 336.2 542.2 338.4 543.3 340.8C544 343.8 544.3 346.9 544.2 350C543.9 352.8 543.4 355.6 542.5 358.3C541.7 360.9 540.6 363.4 539.2 365.8C537.5 368.4 535.5 370.8 533.3 373"/>
<path class="k" d="M522.5 319C519.5 317.8 516.4 317.3 513.3 317.5C510 317.4 506.6 317.5 503.3 318C500.4 318.6 497.6 319.5 495 320.8C492.8 321.8 490.6 322.6 488.3 323.3"/>
<path class="k" d="M461.7 320.8L472.5 325" stroke-linecap="butt"/>
<path class="k" d="M477.2 325.3H479.6" stroke-linecap="butt"/>
<path class="k" d="M483.3 325L486.7 324.2" stroke-linecap="butt"/>
<text class="m" x="497.2" y="261.7">960</text>
<text class="m" x="442.3" y="288.6">920</text>
<text class="m" x="441.4" y="318.5">940</text>
<text class="m" x="551.6" y="288.7">920</text>
<text class="m" x="523.4" y="302">940</text>
<text class="m" x="554.3" y="328">900</text>
<text class="m" x="547.7" y="362">880</text>
<text class="L" x="422.2" y="393.4">5</text>
</g>

<!-- ===== Panel 6 ===== -->
<g id="p6">
<polygon class="o" points="62.5,444.5 125.5,444.5 173.5,492 173.5,553.5 126,602.5 62.5,602.5 14.5,553.5 14.5,492"/>
<!-- 1020 contour (upper-left) -->
<path class="c" d="M82.8 446.3C80.1 448 77.5 449.8 75 451.7C71.5 454 68 457 65.5 460C63.5 462 61.5 464.3 60 466.7C59.6 469.4 59.5 472.2 59.7 475C60 477.9 60.7 480.7 61.7 483.3C63 485.3 64.7 486.9 66.7 488C68.8 489 71 489.7 73.3 490"/>
<!-- 1000 contour -->
<path class="c" d="M84.2 490C82.2 489.9 80.2 489.7 78.3 489.2C75.9 488.7 73.7 487.9 71.7 486.7C69.9 485.4 68.5 483.7 67.5 481.7C66.8 479.5 66.5 477.3 66.7 475C67.4 472 68.5 469.3 70 466.7C71.6 464.5 73.6 462.5 75.8 460.8C77.4 459.6 79.1 458.5 80.8 457.5C83.2 456.2 85.7 455.1 88.3 454.2C90.5 453.6 92.7 453.2 95 453C97 452.9 99 453 100.8 453.3C102.9 453.9 104.8 454.8 106.5 455.8C108.6 457.2 110.4 458.7 111.8 460.5C112.9 462.9 113.5 465.4 113.7 468C113.8 470.5 113.7 473 113.3 475.5C112.8 477 112 478.4 111 479.7"/>
<!-- 980 -->
<path class="c" d="M95 469.2C93.1 470.3 91.4 471.7 90 473.3C88.8 475.4 88 477.6 87.5 480C87.4 482.8 87.7 485.6 88.3 488.3"/>
<path class="c" d="M98.3 469.2C100.7 470 103 471.1 105 472.5C106.2 473.9 107.2 475.4 108 477C108.5 478.2 108.7 479.5 108.8 480.8"/>
<!-- tongue -->
<path class="c" d="M73.3 515C71 514.4 68.8 513.6 66.7 512.5C64.2 510.9 62 508.9 60 506.7C57.9 504.3 56 501.8 54.2 499.2C52.7 497.3 51 495.7 49.2 494.2C47.6 493.2 45.9 492.4 44.2 492C42.7 492 41.3 492.5 40 493.3C38.7 494.7 37.9 496.4 37.5 498.3C37.6 500.7 38.2 502.9 39.2 505C40.4 507.1 41.8 509 43.3 510.8C44.6 512.7 45.7 514.7 46.7 516.7C47.7 519.1 48.5 521.6 49.2 524.2C50.3 526.4 51.7 528.3 53.3 530C54.4 531 55.5 531.8 56.7 532.5"/>
<path class="c" d="M65 510C66.8 511.2 68.5 512.6 70 514.2C71 514.6 72 514.8 73.3 515"/>
<path class="c" d="M75 529.2C74.2 531.1 73.1 532.8 71.7 534.2C69.6 535.2 67.3 535.8 65 535.8"/>
<!-- thin arc from hook end to SW -->
<path class="c" d="M80.8 536.7C81.7 539.4 82.1 542.2 82 545C82 548.4 81.6 551.7 80.8 555C80 558.5 78.9 561.8 77.5 565C76.1 568 74.5 570.8 72.5 573.3C70.8 575.8 68.9 578 66.7 580C64.1 581.8 61.3 583.2 58.3 584.2C55.3 585.3 52.3 586.2 49.2 587"/>
<!-- fan from 1040 -->
<path class="c" d="M66.7 576.7L71 576.5"/>
<path class="c" d="M66.7 580.8C64.3 582.1 62 583.6 60 585C58.5 586.1 57.1 587.2 55.8 588.3"/>
<path class="c" d="M67.5 581.7L69.2 584.2"/>
<path class="c" d="M71.7 578.3C69.6 581 67.6 583.8 65.8 586.7C64.5 588.8 63.4 591 62.5 593.3C61.7 596.1 61.1 598.9 60.8 601.7"/>
<path class="c" d="M74.2 581.7C72.4 584.4 70.7 587.2 69.2 590C67.8 592.7 66.7 595.4 65.8 598.3C65.4 599.5 65.2 600.7 65 602"/>
<!-- hachured going right -->
<path class="c" d="M70.8 575C73.8 573.9 76.9 572.9 80 572C83.3 571.1 86.6 570.4 90 569.7C93.2 569.2 96.3 568.6 99.3 568C102.4 567.4 105.5 566.9 108.6 566.9C112.2 566 115.8 565.2 119.4 564.3C122.5 563.4 125.6 562.5 128.7 561.5C131.8 560.8 134.9 560.1 138 559.6C141.1 559.3 144.2 559.1 147.3 559.1C149.9 559.2 152.5 559.5 155.1 559.9C157.8 561 160.4 562.3 162.8 563.8"/>
<path class="c" d="M74.2 573.3L78.3 572.5L79.2 575.3"/>
<path class="c" d="M85.8 568.3L90 567.5L90.8 570.8"/>
<path class="c" d="M97.5 564.7L101.7 563.7L102.8 567.8"/>
<path class="c" d="M110.9 561.5L114.8 560.7L115.8 565.3"/>
<!-- second line right (980) -->
<path class="c" d="M71.7 576.7C74.5 576.2 77.2 575.9 80 575.8C83.3 575.9 86.7 576.2 90 577.7C93.1 578.1 96.2 578.6 99.3 579.3C101.9 580 104.5 580.8 107 581.6C108.6 582.3 110.2 583.1 111.7 583.9"/>
<path class="c" d="M124.9 593.2C126 594.5 127.2 595.7 128.4 596.8"/>
<!-- hachured vertical (right side) -->
<path class="c" d="M144.8 480.8C145.4 479.9 146.2 479.1 147 478.5C148.4 477.6 149.9 476.8 151.5 476.3C153 475.9 154.5 475.6 156 475.5"/>
<path class="c" d="M144 483C143.9 485.5 143.7 488 143.3 490.5C142.9 492.5 142.4 494.5 141.8 496.5C141.2 498.6 140.4 500.6 139.5 502.5C138.2 504.7 136.7 506.7 135 508.5C133.4 510.2 131.9 511.9 130.5 513.8C129.6 515.5 128.9 517.2 128.3 519C127.9 521.8 127.8 524.6 127.9 527.4C127.6 530 127.3 532.5 127.2 535.1C127.5 537.7 128 540.3 128.7 542.9C128.6 545.5 128.3 548 127.9 550.6C127.2 553 126.2 555.4 124.9 557.6C123.6 559.3 122 560.9 120.2 562.2"/>
<path class="c" d="M136.5 495L139.5 493.5L141.8 495.8"/>
<path class="c" d="M132 504L135 503.3M135 503.3V506.8M135 504.5L139 504.3"/>
<path class="c" d="M124.8 513H127.5L126 517.5M127.5 513L130.5 514.5"/>
<path class="c" d="M121.8 526.6L127.4 527.4M122.6 525.6L121.8 530"/>
<path class="c" d="M122.5 538.2L127.4 539M122.8 537.4L122.5 542"/>
<path class="c" d="M122.5 550.6L127.2 552.2M123.7 549.4L122.2 553"/>
<!-- 1060 contour -->
<path class="c" d="M173 502.5C170.3 501.9 167.7 501.4 165 501C162 500.3 159 499.9 156 499.8C153 499.9 150 500.3 147 501C144.4 501.9 141.9 503 139.5 504.3C137.9 505.6 136.4 507 135 508.5"/>
<!-- 1040 contour -->
<path class="c" d="M173 519.8C170.4 518.8 167.7 518 165 517.2C162.5 516.2 160 515.3 157.5 514.5C155 513.8 152.5 513.3 150 513C147 513 144 513.3 141 513.8C138.9 514.6 136.9 515.6 135 516.8C133.3 518.1 131.8 519.6 130.5 521.3C130 522.5 129.6 523.7 129.3 525"/>
<!-- 1020 right -->
<path class="c" d="M173.6 519.3H162.8"/>
<!-- 1000 lower contour -->
<path class="c" d="M172.1 548.3C169.7 545.3 167.1 542.5 164.3 539.8C161.6 537.5 158.8 535.4 155.8 533.6C153.6 532.1 151.3 530.8 148.9 529.7C145.9 528.7 142.8 528.2 139.6 528.2C137.4 528.6 135.3 529.4 133.4 530.5C131.9 532.1 130.8 533.9 130 535.9C129.3 538.2 128.9 540.5 128.7 542.9"/>
<!-- thick -->
<path class="k" d="M46.7 478.7C48.2 476.3 49.9 473.9 51.7 471.7C54.2 468.9 57 466.4 60 464.2C62.6 462.7 65.4 461.6 68.3 460.8C71.1 460.2 73.9 459.9 76.7 460C79.6 460.1 82.4 460.7 85 461.7C87.6 463.2 89.8 465.2 91.7 467.5C93.5 470.4 94.8 473.5 95.8 476.7C96.9 480 97.7 483.3 98.3 486.7C98.5 487.7 98.6 488.7 98.7 489.7"/>
<path class="k" d="M133.5 473.7C135.4 472.2 137.4 470.8 139.5 469.5C141.4 468.2 143.4 467.1 145.5 466.2C147.5 465.7 149.5 465.5 151.5 465.8C153.7 466.4 155.7 467.4 157.5 468.8C159.6 470.8 161.4 473 162.8 475.5C164.2 478.4 165.2 481.4 165.8 484.5C166.3 488 166.4 491.5 166.2 495C165.8 498.5 165.2 502 164.3 505.5C163.5 509 162.5 512.5 161.3 516C160.1 519.3 158.8 522.6 157.4 525.8C155.7 530 153.9 534.1 152 538.2C150.1 542.4 148 546.5 145.8 550.6C143.4 554.9 140.8 559 138 563C135.6 566.2 133.1 569.3 130.3 572.3C127.4 575.1 124.3 577.6 121 580C117.5 582.1 113.9 583.9 110.1 585.5C105.5 587.3 100.8 589 96.2 590.6"/>
<path class="k" d="M43.3 498C44.6 500.4 46 502.7 47.5 505C49.1 507.6 50.7 510.1 52.5 512.5C54.2 514.7 56.1 516.6 58.3 518.3C59.8 519.6 61.5 520.6 63.3 521.3H75"/>
<path class="k" d="M63.3 521.5C62 522.3 61.3 523.2 60.8 524.2C59.7 526 58.9 528 58.3 530C57.7 532.7 57.4 535.5 57.5 538.3C57.7 541.2 58.3 544 59.2 546.7C60.3 549.9 61.7 552.9 63.3 555.8C64.8 558.4 66.5 560.9 68.3 563.3"/>
<path class="k" d="M60.8 524.2C60.2 526.7 60 529.2 60 531.7C60.8 533.6 61.9 535.3 63.3 536.7C65.3 538.3 67.5 539.4 70 540C72.3 540.2 74.5 539.9 76.7 539.2C78.6 538.4 80.3 537.3 81.7 535.8"/>
<path class="k" d="M92.2 508.3L89.7 517.5" stroke-linecap="butt"/>
<path class="k" d="M88.4 521.5L87.5 525.8" stroke-linecap="butt"/>
<path class="k" d="M85.2 528.8L84 531.8" stroke-linecap="butt"/>
<path class="k" d="M70.8 575.8C72.7 577.8 74.7 579.8 76.7 581.7C78.8 583.7 81 585.7 83.3 587.5C85.2 589 87.2 590.4 89.2 591.7"/>
<text class="m" x="17.7" y="524.8">1020</text>
<text class="m" x="38.5" y="578.7">1040</text>
<text class="s" x="57" y="457">1020</text>
<text class="s" x="82.3" y="452">1000</text>
<text class="s" x="94.8" y="468">980</text>
<text class="s" x="127.3" y="483">1080</text>
<text class="s" x="145" y="495.8">1060</text>
<text class="s" x="140.5" y="511.8">1040</text>
<text class="s" x="135.3" y="524.8">1020</text>
<text class="s" x="148.4" y="556.8">1000</text>
<text class="s" x="115.6" y="593.3">980</text>
<text class="L" x="13.3" y="599.2">6</text>
</g>

<!-- ===== Panel 7 ===== -->
<g id="p7">
<polygon class="o" points="269.5,444.5 332.5,444.5 380.5,492 380.5,553.5 333.5,602.5 269.5,602.5 221.5,553.5 221.5,492"/>
<!-- 1200 outer -->
<path class="c" d="M272.5 530C273.3 527.3 273.9 524.5 274.2 521.7C274.4 518.4 274.4 515 274.2 511.7C273.7 509.3 272.9 507.1 271.7 505C270.3 502.5 268.6 500.3 266.7 498.3C264.1 495.9 261.3 493.7 258.3 491.7C256 489.1 254.1 486.3 252.5 483.3C251.2 480.1 250.3 476.8 250 473.3C250.1 470.1 250.6 467.1 251.7 464.2C252.9 461.4 254.6 458.9 256.7 456.7C259.1 454.3 261.9 452.3 265 450.8C268.1 449.4 271.5 448.5 275 448C278.9 447.4 282.8 447.1 286.7 447C290.6 446.9 294.5 447.1 298.3 447.5C301.8 448 305.1 448.8 308.3 450C311 450.6 313.5 451.6 316 453C317.7 455.3 319 457.8 319.8 460.5C320.6 463.4 321.1 466.4 321.3 469.5C321.6 473 321.8 476.5 321.7 480C321.8 482.2 321.8 484.5 321.7 486.7C321.5 489.8 321 492.9 320.3 496C319.5 499.2 318.4 502.3 317 505.3C315.7 508.1 314.1 510.8 312.3 513.3C310.7 516.1 308.9 518.7 307 521.3C304.9 524.5 302.7 527.7 300.3 530.7C298.7 532.6 296.9 534.4 295 536"/>
<!-- 1180 -->
<path class="c" d="M273.3 508.3C272.4 505.7 271.3 503.2 270 500.8C268.2 498.4 266.5 495.9 265 493.3C263.7 490.7 262.8 487.9 262.5 485C262.3 482.4 262.6 479.9 263.3 477.5C264.6 475.5 266.3 473.8 268.3 472.5C270.9 471.3 273.7 470.6 276.7 470.3C280.6 470 284.4 469.9 288.3 470C291.7 469.8 295.1 469.3 298.3 468.3C300.7 466.6 302.9 464.6 305 462.5C306.5 461.3 308.2 460.5 310 460C311.5 460.2 313 460.6 314.5 461.3C316 462 317.2 463 318.3 464.3C319.2 465.2 319.9 466.2 320.5 467.3"/>
<!-- 1160 -->
<path class="c" d="M274.3 506.7C274.8 504 275.4 501.3 276.3 498.7C277.7 495.8 279.5 493.1 281.7 490.7C283.6 488.8 285.8 487.2 288.3 486C290.9 485 293.5 484.3 296.3 484C299.1 484 301.7 484.4 304.3 485.3C306.4 486.3 308.2 487.6 309.7 489.3C311.1 490.9 312.2 492.7 313 494.7C313.6 497.3 313.9 500 313.7 502.7C313.3 505.9 312.6 509 311.7 512"/>
<!-- 1140 -->
<path class="c" d="M275 512C275.5 510.1 276.1 508.4 277 506.7C278.3 504.8 279.9 503.2 281.7 502C283.4 501.2 285.1 500.8 287 500.7C289.1 501 291.1 501.7 293 502.7C294.4 503.8 295.5 505.1 296.3 506.7C296.8 508.4 297 510.2 297 512"/>
<!-- 1120 -->
<path class="c" d="M273.7 526.7C274 525.3 274.4 524 275 522.7C275.9 521.3 277 520.2 278.3 519.3C279.8 518.6 281.3 518.1 283 518C284.4 518.2 285.8 518.6 287 519.3C288.1 520.3 289 521.4 289.7 522.7"/>
<!-- 1100 -->
<path class="c" d="M274.3 536C275.3 534.8 276.4 533.7 277.7 532.7C278.9 531.8 280.3 531.1 281.7 530.7H285"/>
<path class="c" d="M295.7 516.7C295.6 520.9 295.3 525.1 295 529.3"/>
<path class="c" d="M292.3 526.7V534.7"/>
<path class="c" d="M287 532.7C287.2 534.7 287.5 536.7 288 538.7"/>
<!-- left vertical hachured -->
<path class="c" d="M273 503.3C273.5 506.2 273.7 509.1 273.7 512C273.4 515.1 272.9 518.2 272.3 521.3C272 524.4 271.8 527.6 271.7 530.7C271.4 534 271.1 537.4 271 540.7"/>
<path class="c" d="M265.8 502.5L268.3 505L270.8 502.5"/>
<path class="c" d="M269.7 512V516.7M269.7 514.4H274.3"/>
<path class="c" d="M267 526.7H271M269 523.3L268.3 528.2"/>
<!-- NE area thin -->
<path class="c" d="M340.8 459L343.8 461.3L346.8 459M341.5 457.2L345.2 459"/>
<path class="c" d="M329.9 481.3L332.3 477.7L333.6 480.1L337.2 473.4L338.5 477.7L340.9 481.3H343.4"/>
<path class="c" d="M358.1 469.7C356.9 471 355.6 472.2 354.4 473.4C352.8 475.1 351.1 476.7 349.5 478.3C347.7 479.8 345.9 481.2 344 482.6"/>
<path class="c" d="M366.6 479.5C365.5 478.3 364.3 477.3 363 476.4C361.6 476.1 360.1 476.1 358.7 476.4C357.4 477.2 356.4 478.2 355.6 479.5C355.1 481.5 354.9 483.5 355 485.6C354.7 487.6 354.5 489.6 354.4 491.7C354.3 494.2 354.5 496.7 355 499.1C355.1 501.6 354.9 504 354.4 506.4C353.8 508 353 509.4 351.9 510.7"/>
<path class="c" d="M365.4 481.3H360.5C359.1 481.9 357.8 482.7 356.8 483.8C356.1 485.1 355.6 486.5 355.4 488"/>
<path class="c" d="M375.8 497.9C374.8 496.1 373.5 494.5 372.1 493C370.5 492.3 368.9 491.9 367.2 491.7C365.4 491.4 363.5 491.2 361.7 491.1C360.2 491.3 358.7 491.7 357.4 492.3C356.6 493.6 356 495.1 355.6 496.6"/>
<path class="c" d="M380.7 517.4C378.6 515.8 376.4 514.4 374 513.2C372 512.3 370 511.7 367.9 511.3C365.8 511.4 363.7 511.6 361.7 511.9C360.1 512.4 358.5 512.9 356.8 513.2C355.1 513.2 353.5 513 351.9 512.6C350.5 511.8 349.3 510.7 348.3 509.5C347.3 508.3 346.5 507.1 345.8 505.8"/>
<path class="c" d="M367.8 480.8L373.5 478.7"/>
<path class="c" d="M348.9 485.6V489.9"/>
<path class="c" d="M345.8 497.9H349.5V500.9H346"/>
<path class="c" d="M346.4 504H349.5V506.4"/>
<path class="c" d="M345.2 510.7L345.8 513.8"/>
<path class="c" d="M332.5 498V504M332.5 504L339.1 504.6M334.2 503.3V505.3"/>
<path class="c" d="M334.8 519.3C335.7 520.3 336.8 521.1 337.9 521.7C339.2 521.5 340.4 521.1 341.5 520.5C342.3 519.6 342.9 518.5 343.4 517.4"/>
<!-- bottom-left arcs -->
<path class="c" d="M239.2 571.7C239.2 569.2 239.5 566.7 240 564.2C241.3 561.6 243 559.4 245 557.5C247.5 555.7 250.3 554.3 253.3 553.3C257.1 552.3 261 551.6 265 551.3C268.9 551.3 272.8 551.7 276.7 552.5C280.2 553.5 283.5 554.9 286.7 556.7C289.7 558.3 292.4 560.2 295 562.5C297.4 564.7 299.7 567.1 301.7 569.7C302 570.5 302.3 571.3 302.5 572"/>
<path class="c" d="M263.3 595C263.6 592.7 264.2 590.5 265 588.3C266.3 585.8 268 583.6 270 581.7C272 579.7 274.2 578 276.7 576.7C278.8 575.7 281 575.1 283.3 574.7"/>
<path class="c" d="M301.7 572.5H305C307.9 573 310.7 573.8 313.3 575C315.8 577 318.1 579.2 320 581.7C322.1 584.3 324.1 587.1 325.8 590C327.7 593.5 329.4 597.1 330.8 600.8"/>
<!-- 1140 arc -->
<path class="c" d="M366.7 566.7C364.6 565.1 362.3 563.7 360 562.5C357.3 561 354.6 559.8 351.7 558.7C349 557.6 346.2 557 343.3 556.7C340.5 556.6 337.7 556.9 335 557.5C332.9 558 331 558.9 329.2 560C327.7 561.4 326.5 563.1 325.8 565C325.4 567.2 325.4 569.5 325.8 571.7C326.3 574 327.2 576.3 328.3 578.3C330 580.5 331.9 582.5 334.2 584.2C336 585.7 337.9 587.1 340 588.3C341.1 589.2 342.2 590 343.3 590.8"/>
<path class="c" d="M327.7 561.8L325.2 559.4M324 560.6L326.2 558"/>
<path class="c" d="M321.5 568.2V573M321.5 570.5H325.8"/>
<path class="c" d="M329.7 579.8L326 581.8M324.4 580.2L327.7 583.5"/>
<path class="c" d="M338.3 586.3L333.4 589.2M332.1 588L334.8 590.6"/>
<!-- thick -->
<path class="k" d="M255.8 475C257.6 472.6 259.6 470.4 261.7 468.3C264.2 465.8 267 463.6 270 461.7C273.1 460.1 276.5 459.1 280 458.7C283.4 458.5 286.7 458.6 290 459.2C292.9 459.9 295.7 461 298.3 462.5C300.8 464.1 303.1 466.1 305 468.3C306.6 470.6 307.8 473.1 308.7 475.8C309.6 478.8 310 481.8 310 485C310.1 487 310.2 489 310.3 490.7C309.9 493 309.2 495.2 308.3 497.3C307 500.1 305.4 502.8 303.7 505.3C301.8 508.1 299.8 510.7 297.7 513.3C295.8 515.9 294 518.6 292.3 521.3C290.4 524.4 288.7 527.5 287 530.7C285.7 532.7 284.3 534.7 283 536.7"/>
<path class="k" d="M362 451.6C358.2 455.6 354.6 459.8 351.3 464.2C349.5 467.2 347.9 470.3 346.4 473.4C345.1 476.6 343.9 479.9 342.8 483.2C341.8 486.4 341 489.7 340.3 493C339.8 496.2 339.6 499.5 339.7 502.8C339.9 505.3 340.3 507.7 340.9 510.1C341.7 512.3 342.7 514.3 344 516.2C345.4 517.7 347 519 348.9 519.9C350.5 520.5 352.1 520.7 353.8 520.5C355.4 520 356.8 519.2 358.1 518.1C359.5 516.4 360.7 514.6 361.7 512.6C362.7 509.8 363.5 506.9 364.2 504C364.9 500.4 365.5 496.7 366 493C366.4 489.3 366.6 485.6 366.6 481.9C366.6 478.2 366.4 474.5 366 470.9C365.6 468.6 365 466.4 364.2 464.2C363.6 463.2 362.7 462.4 361.7 461.7"/>
<path class="k" d="M358.5 518.5C358.9 519.2 359.1 520 359.2 520.8C359.2 523.9 359 527 358.7 530C357.8 533.9 356.9 537.8 355.8 541.7C354.5 546.2 353.1 550.6 351.7 555C350.5 558.9 349.2 562.8 348 566.7C347.2 569.4 346.5 572.2 345.8 575"/>
<path class="k" d="M253 562C255.9 564.9 258.8 567.9 261.7 570.8C265 574.2 268.3 577.5 271.7 580.8C273.8 582.8 276 584.8 278.3 586.7C280.4 588.1 282.7 589.3 285 590.3"/>
<path class="k" d="M299.7 591.7C302.6 590.6 305.5 589.5 308.3 588.3C311.4 587.3 314.4 586.3 317.5 585.3"/>
<text class="t" x="283.8" y="456.3">1200</text>
<text class="t" x="273.8" y="469.3">1180</text>
<text class="t" x="278.8" y="482">1160</text>
<text class="t" x="281.1" y="498.8">1140</text>
<text class="t" x="279.1" y="516.3">1120</text>
<text class="t" x="283.3" y="546.8">1100</text>
<text class="t" x="329" y="471">1100</text>
<text class="t" x="373.3" y="481.8">1220</text>
<text class="t" x="320.5" y="495">1120</text>
<text class="t" x="368.1" y="507">1200</text>
<text class="t" x="322.9" y="513.8">1140</text>
<text class="t" x="364.5" y="525">1160</text>
<text class="m" x="238.9" y="550.9">1220</text>
<text class="m" x="281.6" y="584.8">1200</text>
<text class="m" x="352.2" y="558.8">1140</text>
<text class="L" x="216.5" y="599.3">7</text>
</g>

<!-- ===== Panel 8 ===== -->
<g id="p8">
<polygon class="o" points="476.5,444.5 540.5,444.5 587.5,490.8 587.5,554.5 540,602.5 476.5,602.5 428.5,554.5 428.5,491.8"/>
<!-- upper-left fan -->
<path class="c" d="M440.3 478.5C441.8 477.5 443.3 476.6 444.8 475.8C447.5 474.9 450.2 474.2 453 473.7C455.5 473.4 458 473.3 460.5 473.3"/>
<path class="c" d="M438 495C437.5 493.8 437.3 492.5 437.3 491.3C437.7 489.6 438.4 488.1 439.5 486.8C441.4 485.7 443.4 485 445.5 484.5C448.5 483.9 451.5 483.4 454.5 483C457 482.6 459.5 482.1 462 481.5C463 481.1 464 480.6 465 480"/>
<path class="c" d="M456 496.5C456 494.5 456.3 492.5 456.8 490.5C457.5 488.4 458.5 486.4 459.8 484.5C461.1 482.9 462.6 481.4 464.3 480C466.1 478.3 467.8 476.6 469.5 474.8C470.5 473.7 471.5 472.6 472.3 471.5"/>
<path class="c" d="M459.8 495.8C459.8 494 460 492.2 460.5 490.5C461 488.4 461.8 486.4 462.8 484.5C463.4 483 464.2 481.6 465 480.3"/>
<path class="c" d="M472.5 480C472.4 478 472.7 476 473.3 474C473.9 472.9 474.6 471.9 475.5 471"/>
<path class="c" d="M476.3 483.8C477.8 483.7 479.3 483.4 480.8 483C481.7 482.1 482.4 481.1 483 480C483.6 479.1 484.1 478.1 484.5 477.2"/>
<path class="c" d="M460.5 496.5C462.4 497.5 464.4 498.2 466.5 498.8C468.3 498.8 470.1 498.5 471.8 498C473.7 496.4 475.5 494.7 477 492.8C478.6 490.6 480.1 488.3 481.5 486C483 484 484.5 482 486 480C487 479.2 488 478.5 489 477.8"/>
<!-- lower-left -->
<path class="c" d="M428.3 502.5C430.5 505 432.8 507.5 435 510C437 512.3 439 514.6 441 516.8C442.5 518.1 444 519.3 445.5 520.5"/>
<path class="c" d="M435.8 496.5C436.4 498.1 437.1 499.6 438 501C439.9 502.9 441.9 504.6 444 506.3"/>
<path class="c" d="M456 499.5C456.7 501.5 457.2 503.5 457.5 505.5C457.9 508 458.2 510.5 458.3 513C458.2 515.6 457.7 518.1 456.8 520.5C456.4 521.5 456.1 522.4 455.8 523.3C454 526.6 451.8 529.7 449.2 532.5"/>
<path class="c" d="M450.8 515L451.8 521"/>
<!-- 1240 loop -->
<path class="c" d="M459.2 575C458.5 572.2 457.7 569.4 456.7 566.7C455.5 564.1 454.1 561.6 452.5 559.2C450.6 556.9 448.7 554.7 446.7 552.5C445.5 550.4 444.7 548.1 444.2 545.8C444.3 543.5 444.8 541.3 445.8 539.2C447.4 536.9 449.4 535 451.7 533.3C454.3 531.6 457.1 530.3 460 529.2C463.2 528 466.6 527.2 470 526.7C473.9 526.4 477.8 526.4 481.7 526.7C485.1 527.2 488.5 528 491.7 529.2C494.7 530.7 497.5 532.7 500 535C502 537.2 503.7 539.8 505 542.5C506.1 545.5 506.7 548.6 506.7 551.7C506.3 554.9 505.5 557.9 504.2 560.8C502.5 563.3 500.5 565.5 498.3 567.5C496.5 569.6 494.8 571.8 493.3 574.2C492.6 575.8 492.2 577.5 492 579.2"/>
<!-- 1340 -->
<path class="c" d="M549.2 452.5C546.1 453 543 453.6 540 454.2C536.6 454.9 533.3 455.7 530 456.7C527.9 457.6 526 458.7 524.2 460C522.9 461 521.8 462.1 520.8 463.3C520.2 464.2 519.7 465.1 519.3 466"/>
<path class="c" d="M518.3 475.8C519.9 477.1 521.5 478.2 523.3 479.2C525.5 479.9 527.7 480.5 530 480.8"/>
<!-- 1320 -->
<path class="c" d="M554.2 460C551.1 460.7 548 461.5 545 462.5C542.3 463.6 539.8 465 537.5 466.7C535.5 468.4 533.8 470.3 532.5 472.5C531.3 474.6 530.5 476.8 530 479.2C530 481.2 530.3 483.1 530.8 485C531.4 486 532 486.8 532.7 487.5"/>
<path class="c" d="M539.2 495C540.7 496.9 542 498.8 543.3 500.8C543.9 501.9 544.3 503 544.7 504.2"/>
<!-- 1300 -->
<path class="c" d="M582.5 503.3C580.7 500.5 578.7 497.7 576.7 495C574.5 491.6 572.3 488.3 570 485C567.9 482.1 565.7 479.4 563.3 476.7C561.6 474.8 559.6 473.1 557.5 471.7C555.6 471 553.7 470.7 551.7 470.8C550.1 471.6 548.6 472.8 547.5 474.2C546.6 476.6 546 479.1 545.8 481.7C545.5 485 545.2 488.4 545 491.7V501.7C545.2 504.7 545.4 507.8 545.8 510.8"/>
<path class="c" d="M545.1 519.8C544.2 522.1 543.4 524.5 542.8 526.9C542.2 529.2 541.7 531.6 541.5 534C541.5 537.2 541.7 540.3 542 543.5C542 545.9 541.9 548.2 541.5 550.6C540.8 552.1 539.9 553.4 538.8 554.6"/>
<path class="c" d="M535.6 534.8L541.5 537.2M537 533.7L535.4 538.3"/>
<path class="c" d="M538 545.9V550.6M538 548.6H541.8"/>
<!-- 1280 -->
<path class="c" d="M543.5 526.9C545.3 526 547.2 525.3 549.1 524.8C551.7 524.4 554.4 524.4 557 524.8C560.8 525.4 564.5 526.4 568.1 527.7C571.5 529.1 574.7 531 577.6 533.2C580.3 535.3 582.7 537.6 584.7 540.3C585.6 541.8 586.3 543.4 586.8 545.1"/>
<!-- 1260 -->
<path class="c" d="M576 564.9C575.5 562.4 574.7 560 573.6 557.7C572.6 555.7 571.3 553.8 569.7 552.2C567.7 551.3 565.5 550.8 563.3 550.6C560.7 550.6 558 550.8 555.4 551.1C552.7 551.5 550.1 552 547.5 552.7C544.6 553.3 541.7 553.9 538.8 554.6C536.7 555.2 534.6 555.8 532.5 556.5"/>
<path class="c" d="M528.5 552.2L532.5 551.4L531.7 556.5"/>
<!-- 1240 -->
<path class="c" d="M567.8 573.6C568.2 571 568.3 568.3 568.1 565.7C567.8 563.7 567.3 561.9 566.5 560.1C565.2 558.5 563.6 557.2 561.7 556.2C559.7 555.4 557.6 554.8 555.4 554.6C553.8 554.6 552.3 554.7 550.7 554.9"/>
<!-- 1220 -->
<path class="c" d="M520.6 601.8C521 600.3 521.6 598.8 522.2 597.3"/>
<path class="c" d="M521.4 587C521.5 584.9 521.7 582.8 522.2 580.7C523.5 578.9 525.1 577.3 526.9 576C529.2 574.6 531.6 573.3 534 572C535.8 570.9 537.4 569.5 538.8 568C539.4 566.8 539.7 565.4 539.6 564.1C538.5 562.8 537.1 561.7 535.6 560.9C533.3 560.2 530.9 559.8 528.5 559.6C526.9 559.6 525.3 559.8 523.7 560.1"/>
<path class="c" d="M519 557.7L523 556.5M521.4 557L523.7 562.5M519.8 564.1L523.7 561.7"/>
<!-- thick -->
<path class="k" d="M428.8 496C431.4 496 433.9 496.1 436.5 496.3C439 496.7 441.5 497.2 444 497.9C446 498.3 448 498.9 450 499.5C452.5 498.5 455 497.3 457.5 495.8C460.1 494.2 462.6 492.4 465 490.5C467.6 488.1 470.1 485.6 472.5 483C474.6 480.6 476.6 478.1 478.5 475.5C480.1 472.3 481.6 469.1 483 465.8"/>
<path class="k" d="M450 499.5C452.1 500.9 454.1 502.4 456 504C458.1 506.4 460.1 508.9 462 511.5C463.7 514.1 465.3 516.7 466.7 518.3C468.6 522.1 470.3 526 471.7 530C472.9 533.9 473.9 537.8 474.7 541.7C475.3 545 475.7 548.4 475.8 551.7C475.7 555.1 475.3 558.4 474.7 561.7C474.2 564.1 473.4 566.5 472.5 568.7"/>
<path class="k" d="M505.3 456.7H515C518.4 457.3 521.8 458.1 525 459.2C528.5 460.6 531.9 462.2 535 464.2C538.6 466.6 541.9 469.4 545 472.5C548.1 475.8 550.9 479.5 553.3 483.3C555.6 487 557.6 490.9 559.2 495C560.7 499.3 561.8 503.8 562.5 508.3C563 512.8 563.2 517.2 563 521.7C563.1 523.2 562.9 524.6 562.5 526C562 529.8 561.2 533.5 560.2 537.2C559.1 541 557.8 544.6 556.2 548.2C554.6 551.3 552.8 554.2 550.7 557C548.5 559.6 546.1 561.9 543.5 564C540.8 565.9 537.8 567.5 534.8 568.8C530.4 570.3 525.9 571.6 521.4 572.8"/>
<text class="t" x="422.2" y="480.8">1300</text>
<text class="t" x="486" y="472.8">1220</text>
<text class="t" x="484.5" y="491.8">1240</text>
<text class="t" x="439.5" y="514.8">1280</text>
<text class="t" x="484.5" y="524.8">1240</text>
<text class="t" x="430.5" y="533">1260</text>
<text class="t" x="509.2" y="474.2">1340</text>
<text class="t" x="523.4" y="494.7">1320</text>
<text class="t" x="537.2" y="519.2">1300</text>
<text class="t" x="567.1" y="527.4">1280</text>
<text class="t" x="562.2" y="549">1260</text>
<text class="t" x="547.2" y="572.8">1240</text>
<text class="t" x="513.2" y="595.8">1220</text>
<text class="L" x="423.3" y="599.3">8</text>
</g>

</svg>
</body>
</html>
